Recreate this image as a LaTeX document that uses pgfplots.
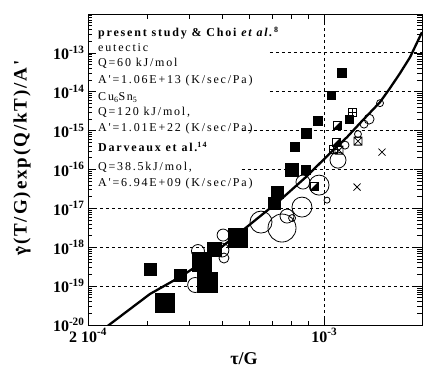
\documentclass[border=0pt]{standalone}
\usepackage{fontspec}
\setmainfont{Liberation Serif}
\newfontfamily\spaced[LetterSpace=15]{Liberation Serif}
\newfontfamily\wide[LetterSpace=10]{Liberation Serif}
\usepackage{pgfplots}
\pgfplotsset{compat=1.18}

% square with its lower-right half filled
\pgfdeclareplotmark{halfsq}{%
  \pgfpathmoveto{\pgfqpoint{-\pgfplotmarksize}{-\pgfplotmarksize}}%
  \pgfpathlineto{\pgfqpoint{\pgfplotmarksize}{-\pgfplotmarksize}}%
  \pgfpathlineto{\pgfqpoint{\pgfplotmarksize}{\pgfplotmarksize}}%
  \pgfpathclose
  \pgfusepathqfill
  \pgfpathrectangle{\pgfqpoint{-\pgfplotmarksize}{-\pgfplotmarksize}}{\pgfqpoint{2\pgfplotmarksize}{2\pgfplotmarksize}}%
  \pgfusepathqstroke}
% square with a plus inside
\pgfdeclareplotmark{sqplus}{%
  \pgfpathrectangle{\pgfqpoint{-\pgfplotmarksize}{-\pgfplotmarksize}}{\pgfqpoint{2\pgfplotmarksize}{2\pgfplotmarksize}}%
  \pgfpathmoveto{\pgfqpoint{0pt}{-\pgfplotmarksize}}\pgfpathlineto{\pgfqpoint{0pt}{\pgfplotmarksize}}%
  \pgfpathmoveto{\pgfqpoint{-\pgfplotmarksize}{0pt}}\pgfpathlineto{\pgfqpoint{\pgfplotmarksize}{0pt}}%
  \pgfusepathqstroke}
% square with a cross inside
\pgfdeclareplotmark{sqx}{%
  \pgfpathrectangle{\pgfqpoint{-\pgfplotmarksize}{-\pgfplotmarksize}}{\pgfqpoint{2\pgfplotmarksize}{2\pgfplotmarksize}}%
  \pgfpathmoveto{\pgfqpoint{-\pgfplotmarksize}{-\pgfplotmarksize}}\pgfpathlineto{\pgfqpoint{\pgfplotmarksize}{\pgfplotmarksize}}%
  \pgfpathmoveto{\pgfqpoint{-\pgfplotmarksize}{\pgfplotmarksize}}\pgfpathlineto{\pgfqpoint{\pgfplotmarksize}{-\pgfplotmarksize}}%
  \pgfusepathqstroke}

\pgfplotsset{
  sized marks/.style={
    scatter, only marks, point meta=\thisrow{m},
    scatter/use mapped color={draw=black, fill=black},
    visualization depends on={\thisrow{m}\as\msz},
    scatter/@pre marker code/.append style={/tikz/mark size=\msz},
  },
}
\tikzset{gridln/.style={black, line width=0.8pt, dash pattern=on 3pt off 3pt}}

% present study: filled squares (x, y, half side)
\pgfplotstableread{
x y m
3.06e-4 2.67e-19 6
3.74e-4 1.87e-19 6
3.37e-4 3.68e-20 9.5
4.35e-4 4.16e-19 9.5
4.50e-4 1.27e-19 10
4.72e-4 8.99e-19 7
5.54e-4 1.72e-18 9.5
7.25e-4 2.62e-17 6
7.10e-4 1.37e-17 6
8.03e-4 9.65e-17 6.5
8.83e-4 9.65e-17 4.5
8.19e-4 3.77e-16 4.5
8.83e-4 8.63e-16 5
9.58e-4 1.75e-15 4.5
1.047e-3 8.17e-15 4.2
1.128e-3 3.01e-14 4.5
1.183e-3 1.98e-15 4
}\squares

% open circles (x, y, radius)
\pgfplotstableread{
x y m
4.23e-4 7.99e-19 6.5
4.15e-4 1.07e-19 7.5
5.02e-4 2.06e-18 6
4.98e-4 8.47e-19 7
5.05e-4 5.28e-19 5
6.50e-4 4.44e-18 11
7.50e-4 3.12e-18 14
7.76e-4 6.34e-18 7
8.03e-4 5.63e-18 3.5
8.59e-4 1.08e-17 10
8.65e-4 4.75e-17 7
9.65e-4 3.97e-17 10
1.019e-3 1.63e-17 3
1.152e-3 4.24e-16 4
1.098e-3 1.74e-16 8
1.258e-3 8.13e-16 3.5
1.357e-3 1.98e-15 5
1.311e-3 1.47e-15 4
1.462e-3 5.09e-15 3.5
}\circles

\begin{document}
\begin{tikzpicture}
\useasboundingbox (-88pt,-44pt) rectangle (336pt,325pt);
\begin{axis}[
  at={(0pt,0pt)}, anchor=south west,
  scale only axis, width=334pt, height=311pt,
  xmode=log, ymode=log,
  xmin=2e-4, xmax=1.946e-3, ymin=1e-20, ymax=1e-12,
  xtick={2e-4,1e-3},
  xticklabels={2 10\textsuperscript{-4}, 10\textsuperscript{-3}},
  minor xtick={3e-4,4e-4,5e-4,6e-4,7e-4,8e-4,9e-4},
  ytick={1e-20,1e-19,1e-18,1e-17,1e-16,1e-15,1e-14,1e-13},
  yticklabels={10\textsuperscript{-20},10\textsuperscript{-19},10\textsuperscript{-18},10\textsuperscript{-17},10\textsuperscript{-16},10\textsuperscript{-15},10\textsuperscript{-14},10\textsuperscript{-13}},
  minor ytick={2e-20,3e-20,4e-20,5e-20,6e-20,7e-20,8e-20,9e-20,
    2e-19,3e-19,4e-19,5e-19,6e-19,7e-19,8e-19,9e-19,
    2e-18,3e-18,4e-18,5e-18,6e-18,7e-18,8e-18,9e-18,
    2e-17,3e-17,4e-17,5e-17,6e-17,7e-17,8e-17,9e-17,
    2e-16,3e-16,4e-16,5e-16,6e-16,7e-16,8e-16,9e-16,
    2e-15,3e-15,4e-15,5e-15,6e-15,7e-15,8e-15,9e-15,
    2e-14,3e-14,4e-14,5e-14,6e-14,7e-14,8e-14,9e-14,
    2e-13,3e-13,4e-13,5e-13,6e-13,7e-13,8e-13,9e-13},
  tick align=inside,
  major tick length=8pt, minor tick length=4.5pt,
  axis line style={line width=0.9pt},
  every tick/.style={black, line width=0.7pt},
  ticklabel style={font=\bfseries\fontsize{16}{16}\selectfont},
]
% dashed grid
\draw[gridln] (axis cs:6.91e-4,1e-13) -- (axis cs:1.946e-3,1e-13);
\draw[gridln] (axis cs:6.91e-4,1e-14) -- (axis cs:1.946e-3,1e-14);
\draw[gridln] (axis cs:5.7e-4,1e-15) -- (axis cs:1.946e-3,1e-15);
\draw[gridln] (axis cs:5.7e-4,1e-16) -- (axis cs:1.946e-3,1e-16);
\draw[gridln] (axis cs:2e-4,1e-17) -- (axis cs:1.946e-3,1e-17);
\draw[gridln] (axis cs:2e-4,1e-18) -- (axis cs:1.946e-3,1e-18);
\draw[gridln] (axis cs:2e-4,1e-19) -- (axis cs:1.946e-3,1e-19);
\draw[gridln] (axis cs:1e-3,1e-20) -- (axis cs:1e-3,1e-12);

% model curve
\addplot[black, line width=2.3pt, line join=round, no markers] coordinates {
(2.25e-4,8.5e-21) (3.05e-4,6.27e-20) (3.74e-4,1.71e-19) (4.29e-4,3.70e-19)
(5.75e-4,2.77e-18) (7.40e-4,1.63e-17) (8.89e-4,6.76e-17) (1.040e-3,2.64e-16)
(1.168e-3,6.81e-16) (1.276e-3,1.56e-15) (1.462e-3,5.41e-15) (1.565e-3,1.24e-14)
(1.676e-3,3.01e-14) (1.794e-3,7.74e-14) (1.946e-3,3.4e-13)};

% Choi et al. data
\addplot[sized marks, mark=o, mark options={line width=0.8pt}] table {\circles};
% present study
\addplot[sized marks, mark=square*] table {\squares};
\addplot[only marks, mark=halfsq, mark size=4pt, mark options={draw=black, fill=black, line width=0.8pt}]
  coordinates {(1.091e-3,1.39e-15) (1.083e-3,5.06e-16) (9.33e-4,3.74e-17)};
\addplot[only marks, mark=sqplus, mark size=4pt, mark options={draw=black, line width=0.8pt}]
  coordinates {(1.208e-3,2.99e-15) (1.062e-3,3.35e-16)};
\addplot[only marks, mark=sqx, mark size=4pt, mark options={draw=black, line width=0.8pt}]
  coordinates {(1.258e-3,5.37e-16) (1.106e-3,3.15e-16)};
% Darveaux et al.
\addplot[only marks, mark=x, mark size=5pt, mark options={draw=black, line width=0.8pt}]
  coordinates {(1.482e-3,2.80e-16) (1.250e-3,3.53e-17)};
\end{axis}

% constants of the fits
\begin{scope}[every node/.style={anchor=base west, inner sep=0pt, font=\spaced\fontsize{12}{14}\selectfont}]
\node at (10pt,288pt) {\textbf{present study \& Choi \textit{et al.}\textsuperscript{8}}};
\node at (10pt,273pt) {eutectic};
\node at (10pt,258pt) {Q=60 kJ/mol};
\node at (10pt,241pt) {A'=1.06E+13 (K/sec/Pa)};
\node at (10pt,224pt) {Cu\textsubscript{6}Sn\textsubscript{5}};
\node at (10pt,209pt) {Q=120 kJ/mol,};
\node at (10pt,193pt) {A'=1.01E+22 (K/sec/Pa)};
\node at (10pt,173pt) {\textbf{Darveaux et al.\textsuperscript{14}}};
\node at (10pt,154pt) {Q=38.5kJ/mol,};
\node at (10pt,138pt) {A'=6.94E+09 (K/sec/Pa)};
\end{scope}

% axis titles
\node[rotate=90, font=\wide\bfseries\fontsize{19}{19}\selectfont] at (-66pt,167pt)
  {\makebox[0pt][l]{\hspace{0.16em}\raisebox{0.42em}{.}}γ(T/G)exp(Q/kT)/A'};
\node[font=\bfseries\fontsize{18}{18}\selectfont] at (156pt,-34pt) {τ/G};
\end{tikzpicture}
\end{document}
